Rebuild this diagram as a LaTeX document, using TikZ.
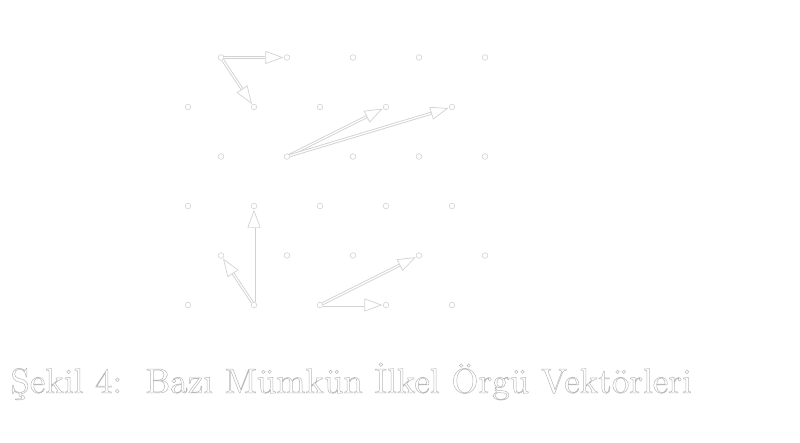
\documentclass[tikz,border=0pt]{standalone}
\usepackage{fontspec}
\usetikzlibrary{arrows.meta}
\newfontfamily\capfont{lmroman10-regular.otf}
\tikzset{
    pt/.style={circle, draw=gray!35, fill=white, line width=0.3pt, inner sep=0pt, minimum size=2.8pt},
    vec/.style={draw=gray!35, line width=0.45pt, double=white, double distance=0.6pt, shorten >=0.3pt,
        -{Triangle[open, length=9pt, width=6.5pt, line width=0.35pt]}}
}
\begin{document}
\begin{tikzpicture}[x=16.5pt, y=24.75pt]
    \useasboundingbox (-5.697, -2.768) rectangle (18.545, 6.162);
    % lattice points
    \foreach \j in {0,...,5} {
        \foreach \i in {0,...,9} {
            \pgfmathtruncatemacro{\odd}{mod(\i+\j,2)}
            \ifnum\odd=0
                \node [pt] (p-\i-\j) at (\i, \j) {};
            \fi
        }
    }
    % primitive vectors
    \draw [vec] (p-1-5) -- (p-3-5);
    \draw [vec] (p-1-5) -- (p-2-4);
    \draw [vec] (p-3-3) -- (p-6-4);
    \draw [vec] (p-3-3) -- (p-8-4);
    \draw [vec] (p-2-0) -- (p-2-2);
    \draw [vec] (p-2-0) -- (p-1-1);
    \draw [vec] (p-4-0) -- (p-6-0);
    \draw [vec] (p-4-0) -- (p-7-1);
    % caption, outlined letters
    \node [anchor=base west, inner sep=0pt] (caption) at (-5.394, -1.776)
        {\special{pdf:code q 1 Tr 0.25 w 0.72 G}\capfont\fontsize{17.5pt}{20pt}\selectfont
         Şekil 4:\ \ Bazı Mümkün İlkel Örgü Vektörleri\special{pdf:code Q}};
\end{tikzpicture}
\end{document}
